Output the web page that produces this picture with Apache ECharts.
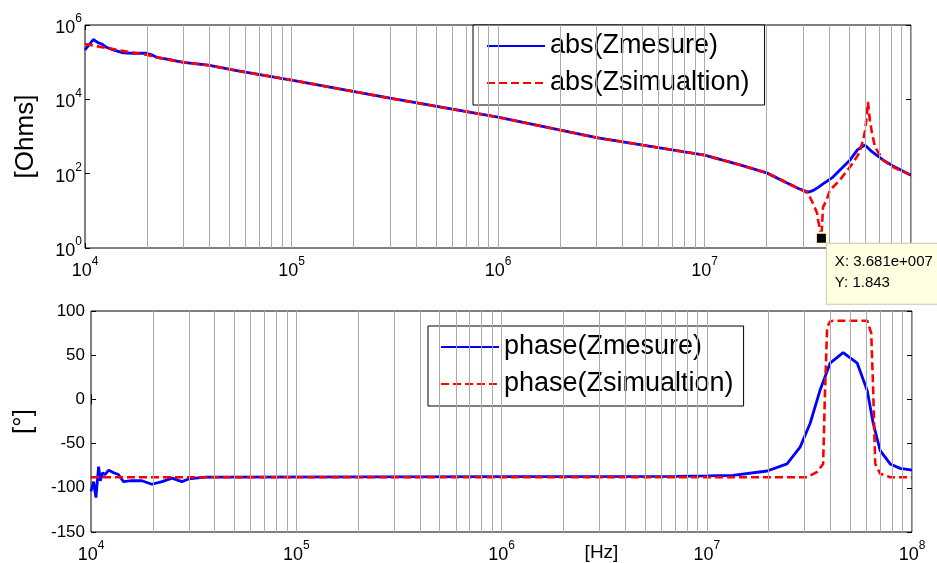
<!DOCTYPE html>
<html>
<head>
<meta charset="utf-8">
<script src="https://cdn.jsdelivr.net/npm/echarts@6.0.0/dist/echarts.min.js"></script>
<style>
  html, body { margin: 0; padding: 0; background: #fff; }
  #main { width: 937px; height: 563px; }
</style>
</head>
<body>
<div id="main"></div>
<script>
const FONT = 'Liberation Sans, Arial, sans-serif';

// |Z| measured
const absFreqMeas = [1e4, 1.097e4, 1.16e4, 1.205e4, 1.27e4, 1.37e4, 1.53e4, 1.71e4, 1.99e4, 2.10e4, 2.22e4, 2.49e4, 2.99e4, 3.95e4, 5.43e4,
  1e5, 3e5, 1e6, 3e6, 1e7, 1.5e7, 2e7, 2.5e7, 2.85e7, 3.17e7, 3.35e7, 3.51e7, 3.75e7, 4.19e7, 4.53e7, 5.07e7, 5.5e7, 5.98e7, 6.47e7, 7.31e7, 8.18e7, 1e8];
const absMeas = [2.14e5, 4.07e5, 3.31e5, 3.09e5, 2.51e5, 2.14e5, 1.78e5, 1.74e5, 1.74e5, 1.58e5, 1.35e5, 1.20e5, 9.9e4, 8.3e4, 5.9e4,
  3.3e4, 1.07e4, 3.3e3, 930, 316, 170, 105, 57, 40, 32, 35, 41, 53, 81, 126, 234, 436, 589, 390, 234, 162, 91];

// |Z| simulated
const absFreqSim = [1e4, 1.14e4, 1.37e4, 1.65e4, 1.99e4, 2.22e4, 2.49e4, 2.99e4, 3.95e4, 5.43e4, 1e5, 3e5, 1e6, 3e6, 1e7, 1.5e7, 2e7, 2.5e7, 2.85e7,
  3.17e7, 3.35e7, 3.51e7, 3.55e7, 3.62e7, 3.681e7, 3.75e7, 3.9e7, 4.05e7, 4.53e7, 5.24e7, 5.6e7, 5.86e7, 6.0e7, 6.12e7, 6.19e7, 6.32e7, 6.47e7, 6.69e7, 7.31e7, 8.18e7, 1e8];
const absSim = [3.09e5, 2.69e5, 2.24e5, 1.86e5, 1.58e5, 1.35e5, 1.20e5, 9.9e4, 8.3e4, 5.9e4, 3.3e4, 1.07e4, 3.3e3, 930, 316, 170, 105, 57, 40,
  30, 16, 8.7, 5.6, 3.3, 1.843, 12.6, 19.5, 36, 68, 195, 355, 794, 1480, 4266, 8500, 2750, 1259, 525, 234, 151, 91];

// phase measured
const phaseFreqMeas = [1e4, 1.03e4, 1.057e4, 1.089e4, 1.11e4, 1.14e4, 1.17e4, 1.22e4, 1.29e4, 1.36e4, 1.44e4, 1.58e4, 1.77e4, 1.98e4, 2.22e4, 2.48e4, 2.77e4, 2.99e4, 3.6e4,
  7.18e6, 1e7, 1.34e7, 1.97e7, 2.46e7, 2.85e7, 3.19e7, 3.56e7, 3.99e7, 4.62e7, 5.41e7, 6.05e7, 6.47e7, 7.0e7, 7.83e7, 8.75e7, 1e8];
const phaseMeas = [-104, -93, -111, -76, -92, -83, -85, -80, -83, -85, -93, -92, -92, -96, -93, -89, -93, -90, -88,
  -87, -86.5, -86, -81, -73, -54, -27, 10, 41, 53, 41, 10, -27, -58, -73, -78, -80];

// phase simulated
const phaseFreqSim = [1e4, 3.08e7, 3.45e7, 3.69e7, 3.77e7, 3.86e7, 3.99e7, 4.13e7, 6.05e7, 6.33e7, 6.47e7, 6.62e7, 7.0e7, 7.83e7, 1e8];
const phaseSim = [-88, -88, -82, -73, 10, 82, 88, 89, 89, 75, 10, -73, -84, -88, -88];

// data tip
const tipFreq = 3.681e7;
const tipVal = 1.843;
const tipText = 'X: 3.681e+007\nY: 1.843';

// minor grid (2..10 per decade)
const gridFreqs = [];
for (let d = 1e4; d < 1e8; d *= 10) {
  for (let k = 2; k <= 10; k++) gridFreqs.push(k * d);
}

const pair = (xs, ys) => xs.map((x, i) => [x, ys[i]]);
const powLabel = v => '{b|10}{s|' + Math.round(Math.log10(v)) + '}';

const rich = {
  b: { fontSize: 18, fontFamily: FONT, color: '#000', lineHeight: 24, verticalAlign: 'bottom' },
  s: { fontSize: 12, fontFamily: FONT, color: '#000', lineHeight: 12, verticalAlign: 'top' }
};

function xAxisLog(gi, pos, labels) {
  return {
    type: 'log', logBase: 10, min: 1e4, max: 1e8, gridIndex: gi, position: pos,
    axisLine: { show: false },
    axisTick: { show: true, inside: true, length: 5, lineStyle: { color: '#000' } },
    splitLine: { show: false },
    axisLabel: { show: labels, formatter: powLabel, margin: 8, rich: rich, hideOverlap: false }
  };
}

function gridSeries(xi, yi) {
  return {
    type: 'line', xAxisIndex: xi, yAxisIndex: yi, data: [], z: 1, silent: true,
    markLine: {
      silent: true, symbol: 'none', animation: false, label: { show: false },
      lineStyle: { color: '#ababab', width: 1, type: 'solid' },
      data: gridFreqs.map(f => ({ xAxis: f }))
    }
  };
}

const blue = { color: '#0000ff', width: 2.8, type: 'solid' };
const red = { color: '#ff0000', width: 2.6, type: [8, 4] };

const legendBase = {
  orient: 'vertical', itemWidth: 58, itemHeight: 4, itemGap: 7,
  backgroundColor: '#fff', borderColor: '#000', borderWidth: 1, borderRadius: 0,
  selectedMode: false,
  itemStyle: { opacity: 0 },
  textStyle: { fontSize: 27, fontFamily: FONT, color: '#000', lineHeight: 30 }
};

const gridBase = {
  show: true, borderColor: '#000', borderWidth: 1, backgroundColor: 'transparent',
  containLabel: false, outerBoundsMode: 'none'
};

const chart = echarts.init(document.getElementById('main'));
chart.setOption({
  animation: false,
  backgroundColor: '#fff',
  grid: [
    Object.assign({ left: 85, right: 26, top: 25, height: 223 }, gridBase),
    Object.assign({ left: 91, right: 25, top: 311, height: 221 }, gridBase)
  ],
  xAxis: [
    xAxisLog(0, 'bottom', true),
    xAxisLog(0, 'top', false),
    Object.assign(xAxisLog(1, 'bottom', true), {
      name: '[Hz]', nameLocation: 'middle', nameGap: 11, nameMoveOverlap: false,
      nameTextStyle: { fontSize: 19, fontFamily: FONT, color: '#000', padding: [0, 0, 0, 200], verticalAlign: 'top' }
    }),
    xAxisLog(1, 'top', false)
  ],
  yAxis: [
    {
      type: 'log', logBase: 10, min: 1, max: 1e6, interval: 2, gridIndex: 0,
      name: '[Ohms]', nameLocation: 'middle', nameGap: 46, nameMoveOverlap: false,
      nameTextStyle: { fontSize: 26, fontFamily: FONT, color: '#000' },
      axisLine: { show: false }, splitLine: { show: false },
      axisTick: { inside: true, length: 5, lineStyle: { color: '#000' } },
      axisLabel: { formatter: powLabel, margin: 3, rich: rich }
    },
    {
      type: 'log', logBase: 10, min: 1, max: 1e6, interval: 2, gridIndex: 0, position: 'right',
      axisLine: { show: false }, splitLine: { show: false },
      axisTick: { inside: true, length: 5, lineStyle: { color: '#000' } },
      axisLabel: { show: false }
    },
    {
      type: 'value', min: -150, max: 100, interval: 50, gridIndex: 1,
      name: '[°]', nameLocation: 'middle', nameGap: 54, nameMoveOverlap: false,
      nameTextStyle: { fontSize: 26, fontFamily: FONT, color: '#000' },
      axisLine: { show: false }, splitLine: { show: false },
      axisTick: { inside: true, length: 5, lineStyle: { color: '#000' } },
      axisLabel: { margin: 6, fontSize: 17, fontFamily: FONT, color: '#000' }
    },
    {
      type: 'value', min: -150, max: 100, interval: 50, gridIndex: 1, position: 'right',
      axisLine: { show: false }, splitLine: { show: false },
      axisTick: { inside: true, length: 5, lineStyle: { color: '#000' } },
      axisLabel: { show: false }
    }
  ],
  legend: [
    Object.assign({}, legendBase, {
      data: ['abs(Zmesure)', 'abs(Zsimualtion)'], left: 473, top: 25, padding: [6, 15, 7, 13]
    }),
    Object.assign({}, legendBase, {
      data: ['phase(Zmesure)', 'phase(Zsimualtion)'], left: 428, top: 326, padding: [6, 10, 7, 12]
    })
  ],
  series: [
    gridSeries(0, 0),
    gridSeries(2, 2),
    {
      name: 'abs(Zmesure)', type: 'line', xAxisIndex: 0, yAxisIndex: 0, z: 3,
      data: pair(absFreqMeas, absMeas), symbol: 'none', showSymbol: false,
      lineStyle: blue, itemStyle: { color: blue.color }
    },
    {
      name: 'abs(Zsimualtion)', type: 'line', xAxisIndex: 0, yAxisIndex: 0, z: 4,
      data: pair(absFreqSim, absSim), symbol: 'none', showSymbol: false,
      lineStyle: red, itemStyle: { color: red.color },
      markPoint: {
        symbol: 'rect', symbolSize: 11, silent: true, animation: false,
        itemStyle: { color: '#000', borderColor: '#ffffd0', borderWidth: 2 },
        label: {
          show: true, position: [12, 12], formatter: tipText,
          fontSize: 15, fontFamily: FONT, color: '#000', lineHeight: 21,
          align: 'left', verticalAlign: 'top',
          backgroundColor: '#ffffe1', borderColor: '#c8c8b4', borderWidth: 1,
          padding: [8, 30, 10, 8]
        },
        data: [{ coord: [tipFreq, tipVal] }]
      }
    },
    {
      name: 'phase(Zmesure)', type: 'line', xAxisIndex: 2, yAxisIndex: 2, z: 3,
      data: pair(phaseFreqMeas, phaseMeas), symbol: 'none', showSymbol: false,
      lineStyle: blue, itemStyle: { color: blue.color }
    },
    {
      name: 'phase(Zsimualtion)', type: 'line', xAxisIndex: 2, yAxisIndex: 2, z: 4,
      data: pair(phaseFreqSim, phaseSim), symbol: 'none', showSymbol: false,
      lineStyle: red, itemStyle: { color: red.color }
    }
  ]
});
</script>
</body>
</html>
